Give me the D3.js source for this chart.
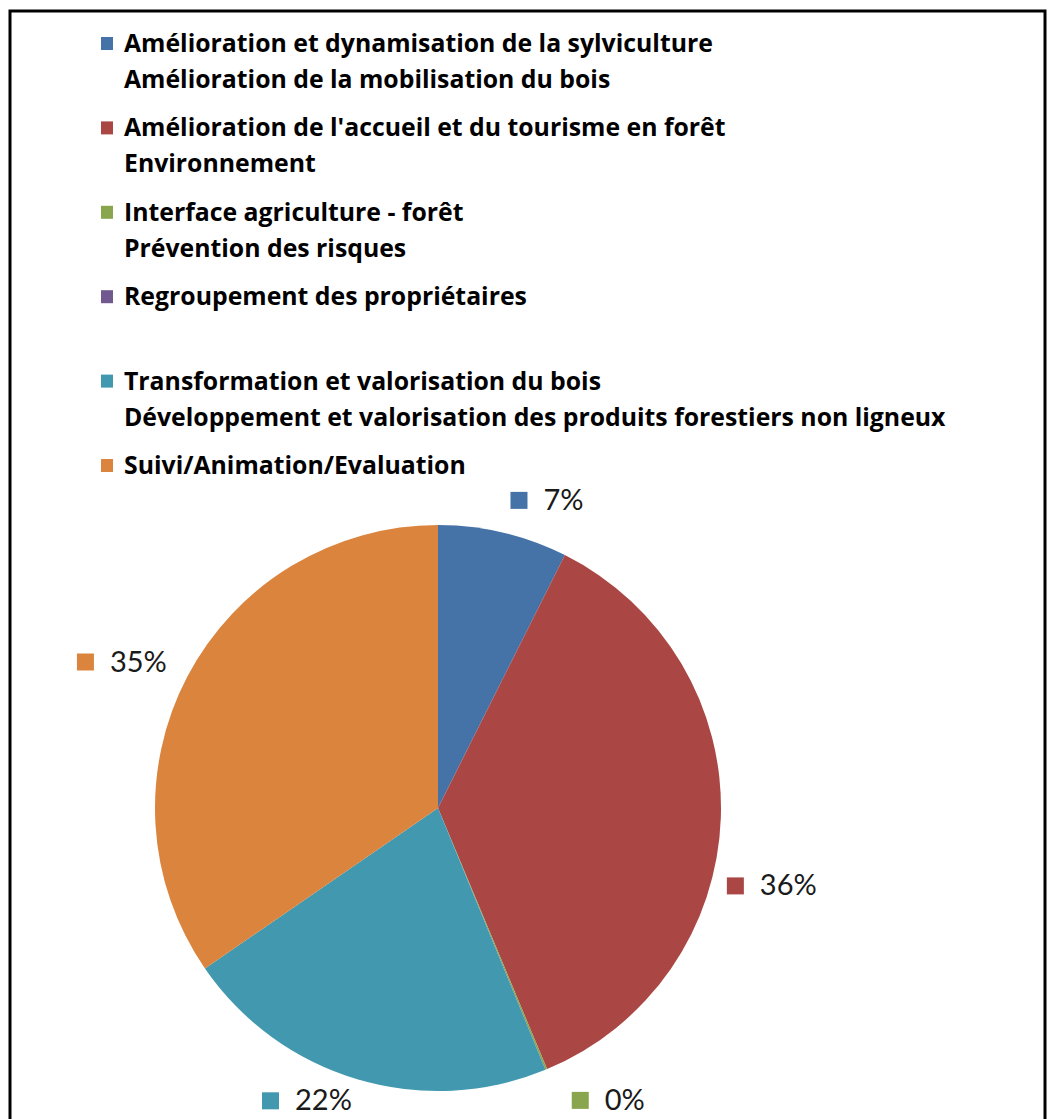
<!DOCTYPE html>
<html lang="fr">
<head>
<meta charset="UTF-8">
<title>Répartition par axe</title>
<script src="https://d3js.org/d3.v7.min.js"></script>
<style>
  body { margin: 0; background: #fff; }
  svg { display: block; }
</style>
</head>
<body>
<svg id="chart" width="1050" height="1119"></svg>
<script>
// legend entries (each may hold two lines)
const categories = [
  ["Amélioration et dynamisation de la sylviculture", "Amélioration de la mobilisation du bois"],
  ["Amélioration de l'accueil et du tourisme en forêt", "Environnement"],
  ["Interface agriculture - forêt", "Prévention des risques"],
  ["Regroupement des propriétaires", ""],
  ["Transformation et valorisation du bois", "Développement et valorisation des produits forestiers non ligneux"],
  ["Suivi/Animation/Evaluation", ""]
];
const shares = [7.4, 36.3, 0.1, 0, 21.6, 34.6];
const labels = ["7%", "36%", "0%", null, "22%", "35%"];
const colors = ["#4572A7", "#AA4643", "#89A54E", "#71588F", "#4198AF", "#DB843D"];

// nudges Excel applied to the outside labels (layout only)
const labelNudge = [[33, 13], [4, 66], [44, -13], [0, 0], [-37, -24], [-24, 7]];

const svg = d3.select("#chart");

// outer frame
svg.append("rect")
  .attr("x", 10).attr("y", 11).attr("width", 1035).attr("height", 1130)
  .attr("fill", "none").attr("stroke", "#000").attr("stroke-width", 3);

// legend
const legend = svg.append("g").attr("transform", "translate(100,0)");
const rowY = d3.scaleLinear().domain([0, 1]).range([52, 136.4]);
const legendFont = "'Open Sans', sans-serif";

// size the legend font so the first line spans the same width as the reference
const probe = svg.append("text").attr("font-family", legendFont)
  .attr("font-weight", 700).attr("font-size", 20).text(categories[0][0]);
const legendSize = 20 * 589 / probe.node().getComputedTextLength();
probe.remove();

categories.forEach((lines, i) => {
  const g = legend.append("g").attr("transform", `translate(0,${rowY(i)})`);
  g.append("rect").attr("x", 1).attr("y", -15).attr("width", 12).attr("height", 13)
    .attr("fill", colors[i]);
  lines.forEach((t, j) => {
    if (!t) return;
    g.append("text").attr("x", 24).attr("y", j * 36)
      .attr("font-family", legendFont)
      .attr("font-weight", 700).attr("font-size", legendSize).attr("fill", "#000")
      .text(t);
  });
});

// pie
const cx = 438, cy = 808, radius = 283;
const pie = d3.pie().sort(null).value(d => d);
const arcs = pie(shares);
const arc = d3.arc().innerRadius(0).outerRadius(radius);
const pieG = svg.append("g").attr("transform", `translate(${cx},${cy})`);
pieG.selectAll("path").data(arcs).enter().append("path")
  .attr("d", arc).attr("fill", (d, i) => colors[i]);

// data labels outside the pie
const labelArc = d3.arc().innerRadius(330).outerRadius(330);
arcs.forEach((d, i) => {
  if (labels[i] === null) return;
  const [x, y] = labelArc.centroid(d);
  const lx = x + labelNudge[i][0], ly = y + labelNudge[i][1];
  const g = pieG.append("g").attr("transform", `translate(${lx},${ly})`);
  const t = g.append("text").attr("x", 0).attr("y", 10)
    .attr("font-family", "Lato, 'Open Sans', sans-serif")
    .attr("font-size", 29).attr("fill", "#1a1a1a").text(labels[i]);
  const w = t.node().getComputedTextLength();
  const total = 17 + 16 + w;
  g.insert("rect", "text").attr("x", -total / 2).attr("y", -8).attr("width", 17).attr("height", 17)
    .attr("fill", colors[i]);
  t.attr("x", -total / 2 + 33);
});
</script>
</body>
</html>
